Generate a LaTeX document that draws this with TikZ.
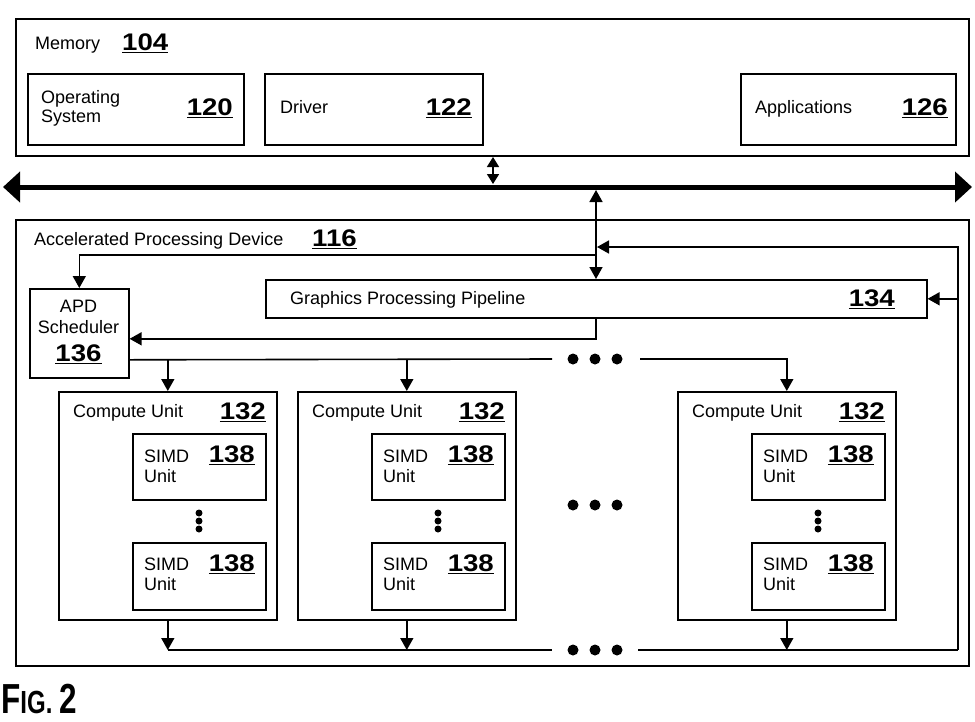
\documentclass[tikz,border=0pt]{standalone}
\usepackage{fontspec}
\setmainfont{Liberation Sans}
\usetikzlibrary{arrows.meta}
\newcommand\ulnum[1]{\setbox0\hbox{\scalebox{1.15}[1]{#1}}\leavevmode\rlap{\rule[-3.2pt]{\wd0}{1.6pt}}\box0}
\begin{document}
\begin{tikzpicture}[x=1pt,y=-1pt,
 box/.style={draw,line width=1.6pt,inner sep=0pt,anchor=north west},
 bigbox/.style={draw,line width=2.4pt,inner sep=0pt,anchor=north west},
 lbl/.style={font=\fontsize{18}{20}\selectfont,inner sep=0pt,anchor=base west},
 num/.style={font=\fontsize{24}{26}\selectfont\bfseries,inner sep=0pt,anchor=base east},
 conn/.style={line width=1.6pt},
 arr/.style={conn,-{Triangle[length=12pt,width=13pt]}},
 darr/.style={conn,{Triangle[length=10pt,width=12pt]}-{Triangle[length=10pt,width=12pt]}},
 bigdot/.style={circle,fill,inner sep=0pt,minimum size=11pt},
 smdot/.style={circle,fill,inner sep=0pt,minimum size=7pt}]
\useasboundingbox (0,0) rectangle (975,721);

% Memory
\node[bigbox,minimum width=953pt,minimum height=137pt] (mem) at (15,18) {};
\node[lbl] (memt) at (35,49) {Memory};
\node[num,anchor=base west] (memn) at (122,50) {\ulnum{104}};
\node[box,minimum width=216pt,minimum height=71pt] (os) at (27,73) {};
\node[lbl] (ost1) at (41,103) {Operating};
\node[lbl] (ost2) at (41,122) {System};
\node[num] (osn) at (233,115) {\ulnum{120}};
\node[box,minimum width=218pt,minimum height=71pt] (drv) at (264,73) {};
\node[lbl] (drvt) at (280,113) {Driver};
\node[num] (drvn) at (472,115) {\ulnum{122}};
\node[box,minimum width=215pt,minimum height=71pt] (app) at (740,73) {};
\node[lbl] (appt) at (755,113) {Applications};
\node[num] (appn) at (948,115) {\ulnum{126}};

% Bus
\coordinate (busL) at (3,187);
\coordinate (busR) at (972,187);
\draw[line width=5pt,{Triangle[length=17pt,width=30pt]}-{Triangle[length=17pt,width=30pt]}] (busL) -- (busR);
\coordinate (mbt) at (493,157);
\coordinate (mbb) at (493,184);
\draw[darr] (mbt) -- (mbb);

% APD
\node[bigbox,minimum width=953pt,minimum height=446pt] (apd) at (15,219) {};
\node[lbl] (apdt) at (34,245) {Accelerated Processing Device};
\node[num,anchor=base west] (apdn) at (312,246) {\ulnum{116}};

\node[box,minimum width=661pt,minimum height=38pt] (gpp) at (265,279) {};
\node[lbl] (gppt) at (290,304) {Graphics Processing Pipeline};
\node[num] (gppn) at (895,306) {\ulnum{134}};

\node[box,minimum width=99pt,minimum height=89pt] (sch) at (29,288) {};
\node[lbl,anchor=base] (scht1) at (78.5,312) {APD};
\node[lbl,anchor=base] (scht2) at (78.5,333) {Scheduler};
\node[num,anchor=base] (schn) at (78.5,361) {\ulnum{136}};

\coordinate (vt) at (596,190);
\draw[conn,{Triangle[length=12pt,width=13pt]}-{Triangle[length=12pt,width=13pt]}] (vt) -- (vt |- gpp.north);
\coordinate (j1) at (596,255);
\draw[arr] (j1) -| (sch.north);
\coordinate (rb) at (958,650);
\coordinate (rt) at (958,247);
\coordinate (jt) at (597,247);
\draw[arr] (rb) -- (rt) -- (jt);
\draw[arr] (rb |- gpp.east) -- (gpp.east);
\draw[arr] (gpp.south -| vt) |- ([yshift=-5.5pt]sch.east);

% Compute units
\foreach \n/\x in {1/58,2/297,3/677} {
  \node[box,minimum width=218pt,minimum height=228pt] (cu\n) at (\x,391) {};
  \node[lbl] (cut\n) at (\x+15,417) {Compute Unit};
  \node[num] (cun\n) at (\x+208,419) {\ulnum{132}};
  \node[box,minimum width=133pt,minimum height=66pt] (sa\n) at (\x+74,433) {};
  \node[lbl] (sat\n) at (\x+86,462) {SIMD};
  \node[lbl] (sau\n) at (\x+86,482) {Unit};
  \node[num] (san\n) at (\x+197,462) {\ulnum{138}};
  \node[box,minimum width=133pt,minimum height=67pt] (sb\n) at (\x+74,542) {};
  \node[lbl] (sbt\n) at (\x+86,570) {SIMD};
  \node[lbl] (sbu\n) at (\x+86,590) {Unit};
  \node[num] (sbn\n) at (\x+197,571) {\ulnum{138}};
  \node[smdot] (va\n) at (\x+141,513) {};
  \node[smdot] (vb\n) at (\x+141,521) {};
  \node[smdot] (vc\n) at (\x+141,529) {};
}

% distribution from scheduler
\coordinate (dl) at (552,359);
\coordinate (dr) at (640,359);
\draw[conn] ([yshift=-26.5pt]sch.east) -- (dl);
\draw[arr] (dr) -| (cu3.north);
\draw[arr] (cu1.north |- dl) -- (cu1.north);
\draw[arr] (cu2.north |- dl) -- (cu2.north);
\node[bigdot] (td1) at (573,359) {};
\node[bigdot] (td2) at (595,359) {};
\node[bigdot] (td3) at (617,359) {};

% middle dots
\node[bigdot] (md1) at (573,505) {};
\node[bigdot] (md2) at (595,505) {};
\node[bigdot] (md3) at (617,505) {};

% bottom collection
\coordinate (bl) at (552,650);
\coordinate (br) at (638,650);
\foreach \n in {1,2,3} {\draw[arr] (cu\n.south) -- (cu\n.south |- bl);}
\draw[conn] (cu1.south |- bl) -- (bl);
\draw[conn] (br) -- (rb);
\node[bigdot] (bd1) at (573,650) {};
\node[bigdot] (bd2) at (595,650) {};
\node[bigdot] (bd3) at (617,650) {};

% figure label
\node[inner sep=0pt,anchor=base west] (fig) at (1,713) {\scalebox{0.75}[1]{\bfseries\fontsize{42}{42}\selectfont F\fontsize{32}{32}\selectfont IG. \fontsize{42}{42}\selectfont 2}};
\end{tikzpicture}
\end{document}
